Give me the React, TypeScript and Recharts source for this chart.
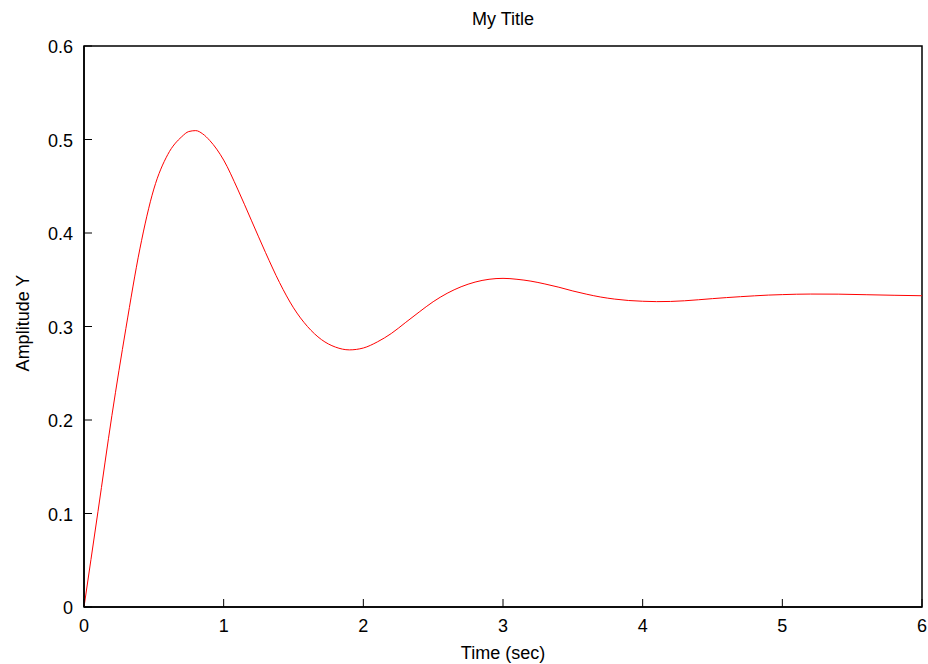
import React from 'react';
import { LineChart, Line, XAxis, YAxis, ReferenceArea } from 'recharts';

const timeSec = [0, 0.1, 0.2, 0.3, 0.4, 0.5, 0.6, 0.7, 0.75, 0.8, 0.85, 0.9, 1.0, 1.1, 1.2, 1.3, 1.4, 1.5, 1.6, 1.7, 1.8, 1.9, 2.0, 2.1, 2.2, 2.3, 2.4, 2.5, 2.6, 2.7, 2.8, 2.9, 3.0, 3.1, 3.2, 3.3, 3.4, 3.5, 3.6, 3.7, 3.8, 3.9, 4.0, 4.1, 4.2, 4.3, 4.4, 4.5, 4.6, 4.7, 4.8, 4.9, 5.0, 5.2, 5.4, 5.6, 5.8, 6.0];
const amplitudeY = [0, 0.102, 0.205, 0.298, 0.383, 0.447, 0.484, 0.503, 0.5085, 0.5095, 0.506, 0.499, 0.478, 0.447, 0.413, 0.379, 0.347, 0.320, 0.300, 0.286, 0.278, 0.275, 0.277, 0.2835, 0.2925, 0.304, 0.3155, 0.3265, 0.3355, 0.3425, 0.3475, 0.3505, 0.3515, 0.3505, 0.3485, 0.3455, 0.342, 0.338, 0.3345, 0.3315, 0.3293, 0.3278, 0.327, 0.3266, 0.3268, 0.3275, 0.3286, 0.3298, 0.3309, 0.3319, 0.3328, 0.3336, 0.3341, 0.3347, 0.3346, 0.3340, 0.3334, 0.3329];
const xTicks = [0, 1, 2, 3, 4, 5, 6];
const yTicks = [0, 0.1, 0.2, 0.3, 0.4, 0.5, 0.6];
const titleText = 'My Title';
const xLabelText = 'Time (sec)';
const yLabelText = 'Amplitude Y';

const data = timeSec.map((t, i) => ({ t, y: amplitudeY[i] }));

const FONT = '"Liberation Sans", Arial, sans-serif';

const XTick = (props: any) => {
  const { x, y, payload } = props;
  return (
    <g>
      <line x1={x} y1={y} x2={x} y2={y - 8} stroke="#000" strokeWidth={1} />
      <text x={x} y={y + 19} textAnchor="middle" dominantBaseline="central" fontSize={18} fontFamily={FONT} fill="#000">
        {String(payload.value)}
      </text>
    </g>
  );
};

const YTick = (props: any) => {
  const { x, y, payload } = props;
  return (
    <g>
      <line x1={x} y1={y} x2={x + 8} y2={y} stroke="#000" strokeWidth={1} />
      <text x={x - 11} y={y + 1} textAnchor="end" dominantBaseline="central" fontSize={18} fontFamily={FONT} fill="#000">
        {String(payload.value)}
      </text>
    </g>
  );
};

export default function App() {
  return (
    <div style={{ position: 'absolute', left: 0, top: 0, width: 928, height: 664, background: '#fff', fontFamily: FONT }}>
      <LineChart width={928} height={664} data={data} margin={{ top: 46, right: 6, bottom: 17, left: 24 }}>
        <XAxis
          dataKey="t"
          type="number"
          domain={[0, 6]}
          ticks={xTicks}
          interval={0}
          tickSize={0}
          tickMargin={0}
          tickLine={false}
          axisLine={{ stroke: '#000', strokeWidth: 1.5 }}
          tick={<XTick />}
          height={40}
          allowDataOverflow
        />
        <YAxis
          type="number"
          domain={[0, 0.6]}
          ticks={yTicks}
          interval={0}
          tickSize={0}
          tickMargin={0}
          tickLine={false}
          axisLine={{ stroke: '#000', strokeWidth: 1.5 }}
          tick={<YTick />}
          width={60}
          allowDataOverflow
        />
        <ReferenceArea x1={0} x2={6} y1={0} y2={0.6} stroke="#000" strokeWidth={1.5} fill="none" fillOpacity={0} ifOverflow="visible" />
        <Line type="monotone" dataKey="y" stroke="#ff0000" strokeWidth={1} dot={false} isAnimationActive={false} />
      </LineChart>
      <div style={{ position: 'absolute', left: 84, width: 838, top: 8, textAlign: 'center', fontSize: 18, lineHeight: '22px', color: '#000' }}>{titleText}</div>
      <div style={{ position: 'absolute', left: 84, width: 838, top: 642, textAlign: 'center', fontSize: 18, lineHeight: '22px', color: '#000' }}>{xLabelText}</div>
      <div style={{ position: 'absolute', left: 22.5 - 100, top: 322.5 - 11, width: 200, textAlign: 'center', fontSize: 18, lineHeight: '22px', color: '#000', transform: 'rotate(-90deg)' }}>{yLabelText}</div>
    </div>
  );
}
